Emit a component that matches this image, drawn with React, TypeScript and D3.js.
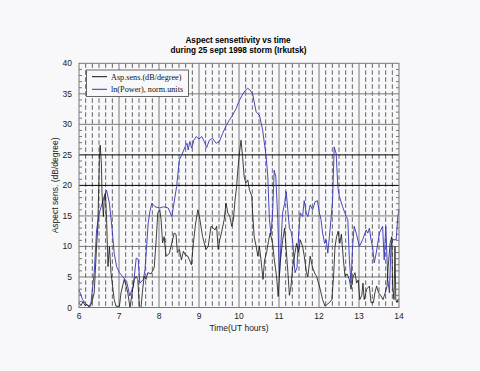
import * as d3 from "d3";
import React from "react";

// ln(Power), norm. units (blue)
const powerTimes = [
  6.0, 6.09, 6.18, 6.26, 6.3, 6.38, 6.44, 6.51, 6.58, 6.63, 6.69, 6.76, 6.83, 6.88, 6.94,
  7.01, 7.09, 7.15, 7.19, 7.27, 7.33, 7.36, 7.43, 7.48, 7.52, 7.61, 7.65, 7.69, 7.73, 7.77,
  7.82, 7.9, 8.02, 8.11, 8.23, 8.32, 8.36, 8.44, 8.51, 8.59, 8.65, 8.7, 8.73, 8.77, 8.82,
  8.87, 8.93, 9.0, 9.07, 9.13, 9.19, 9.26, 9.34, 9.43, 9.51, 9.59, 9.68, 9.76, 9.84, 9.93,
  10.0, 10.08, 10.15, 10.22, 10.28, 10.34, 10.43, 10.51, 10.59, 10.68, 10.72, 10.76, 10.8,
  10.84, 10.88, 10.92, 10.97, 11.01, 11.05, 11.09, 11.14, 11.18, 11.22, 11.26, 11.3, 11.34,
  11.4, 11.45, 11.49, 11.53, 11.59, 11.63, 11.68, 11.72, 11.78, 11.84, 11.9, 11.96, 12.01,
  12.05, 12.09, 12.14, 12.18, 12.22, 12.26, 12.3, 12.34, 12.38, 12.43, 12.47, 12.51, 12.59,
  12.68, 12.72, 12.76, 12.8, 12.84, 12.88, 12.93, 13.01, 13.09, 13.18, 13.22, 13.26, 13.3,
  13.34, 13.38, 13.43, 13.51, 13.59, 13.63, 13.67, 13.72, 13.76, 13.8, 13.84, 13.93, 13.97, 14.0,
];
const powerValues = [
  2.9, 1.3, 0.5, 0.2, 0.8, 5.7, 12.7, 15.5, 17.1, 18.2, 19.2, 17.1, 12.7, 8.9, 6.7,
  5.7, 5.1, 4.6, 4.3, 1.9, 3.0, 3.5, 8.1, 7.9, 4.0, 4.6, 6.2, 10.0, 13.8, 15.7,
  17.1, 16.5, 16.3, 16.5, 16.3, 14.9, 16.5, 19.8, 24.2, 25.3, 26.3, 26.9, 25.8, 27.2, 26.1,
  27.4, 28.0, 27.6, 28.0, 27.2, 26.2, 27.4, 27.7, 26.9, 27.2, 28.5, 29.8, 30.7, 31.5, 32.6,
  33.8, 34.8, 35.5, 35.9, 35.6, 35.0, 32.0, 31.5, 29.1, 24.7, 21.4, 14.4, 12.0,
  15.5, 22.5, 21.4, 14.4, 5.1, 10.6, 15.5, 17.0, 19.0, 16.0, 13.0, 12.5, 11.0,
  5.7, 6.5, 12.0, 15.5, 14.9, 17.5, 15.5, 14.9, 16.8, 16.0, 17.3, 17.5, 15.5,
  14.4, 12.2, 10.5, 11.1, 8.9, 11.6, 14.5, 17.6, 26.3, 25.2, 19.8, 18.2, 16.5,
  14.9, 14.4, 7.8, 4.0, 10.0, 13.3, 12.2, 10.0, 11.1, 12.7, 12.2, 13.0, 11.1,
  10.0, 7.3, 8.9, 12.2, 13.3, 7.8, 13.3, 4.6, 2.4, 10.0, 11.1, 11.1, 14.9, 16.0,
];

// Asp.sens. (dB/degree) (black)
const sensTimes = [
  6.0, 6.05, 6.1, 6.15, 6.2, 6.26, 6.32, 6.38, 6.44, 6.47, 6.49, 6.51, 6.53, 6.56, 6.575,
  6.61, 6.63, 6.66, 6.69, 6.725, 6.76, 6.8, 6.84, 6.88, 6.925, 7.01, 7.05, 7.09, 7.13, 7.18,
  7.22, 7.275, 7.34, 7.38, 7.43, 7.47, 7.51, 7.55, 7.59, 7.63, 7.675, 7.72, 7.8, 7.88, 7.93,
  7.97, 8.02, 8.05, 8.09, 8.13, 8.175, 8.22, 8.26, 8.3, 8.34, 8.38, 8.425, 8.46, 8.51, 8.56,
  8.61, 8.66, 8.72, 8.76, 8.81, 8.86, 8.91, 8.97, 9.01, 9.09, 9.175, 9.23, 9.3, 9.36, 9.4,
  9.44, 9.48, 9.52, 9.57, 9.63, 9.675, 9.72, 9.77, 9.82, 9.86, 9.9, 9.94, 9.97, 10.02, 10.05,
  10.09, 10.13, 10.17, 10.22, 10.26, 10.32, 10.34, 10.38, 10.43, 10.47, 10.51, 10.55, 10.6,
  10.64, 10.69, 10.74, 10.78, 10.84, 10.88, 10.94, 10.98, 11.03, 11.09, 11.14, 11.18, 11.22,
  11.26, 11.3, 11.34, 11.4, 11.44, 11.49, 11.53, 11.59, 11.63, 11.68, 11.72, 11.78, 11.84,
  11.9, 11.94, 12.01, 12.05, 12.09, 12.15, 12.2, 12.26, 12.32, 12.36, 12.4, 12.44, 12.48,
  12.52, 12.56, 12.61, 12.65, 12.7, 12.76, 12.8, 12.85, 12.9, 12.94, 12.98, 13.02, 13.07,
  13.1, 13.13, 13.19, 13.26, 13.3, 13.36, 13.4, 13.44, 13.49, 13.55, 13.6, 13.66, 13.7,
  13.73, 13.78, 13.82, 13.84, 13.875, 13.9, 13.92, 13.95, 13.97, 14.0,
];
const sensValues = [
  0.8, 0.3, 1.0, 0.3, 0.5, 0.0, 0.8, 2.4, 10.0, 13.3, 18.7, 24.2, 26.6, 23.6, 18.7,
  14.9, 17.6, 18.7, 14.4, 6.7, 10.0, 5.7, 3.5, 1.3, 0.2, 0.2, 2.4, 3.5, 4.6, 3.5,
  2.4, 0.0, 2.9, 4.6, 5.1, 4.6, 0.0, 0.0, 2.9, 5.1, 4.6, 5.7, 5.5, 6.5, 11.1,
  15.5, 16.0, 14.5, 10.6, 11.6, 8.4, 8.6, 8.9, 10.0, 11.1, 12.2, 12.0, 9.0, 9.5, 7.8,
  9.2, 8.6, 8.4, 7.8, 7.0, 10.6, 13.5, 16.0, 14.9, 11.6, 9.5, 10.0, 13.3, 13.0, 12.7,
  13.3, 9.5, 11.1, 12.5, 14.4, 17.1, 15.5, 14.9, 13.3, 14.4, 17.6, 19.8, 22.5, 25.8, 27.4,
  24.7, 21.4, 20.4, 20.9, 19.3, 18.2, 15.5, 11.6, 10.0, 8.4, 10.0, 7.8, 4.6,
  7.8, 9.0, 11.0, 12.2, 10.5, 8.0, 5.0, 1.8, 7.3, 11.0, 13.0, 9.5, 6.0,
  2.0, 3.5, 6.5, 9.0, 10.5, 9.0, 11.1, 10.0, 8.5, 6.0, 5.0, 8.4, 6.5,
  5.5, 5.1, 3.5, 2.4, 1.3, 0.2, 0.5, 0.8, 1.3, 4.6, 10.0, 11.6, 12.5,
  10.5, 12.0, 7.8, 5.1, 5.5, 4.6, 3.0, 5.0, 5.7, 4.0, 4.5, 1.3, 2.0,
  4.0, 1.3, 3.0, 3.5, 0.8, 0.8, 2.5, 3.5, 2.4, 1.9, 1.3, 2.5, 3.5,
  6.7, 10.6, 11.6, 3.5, 1.3, 10.0, 1.3, 0.8, 1.3, 1.3,
];

const yTicks = [0, 5, 10, 15, 20, 25, 30, 35, 40];
const xTicks = [6, 7, 8, 9, 10, 11, 12, 13, 14];
const legendLabels = ["Asp.sens.(dB/degree)", "ln(Power), norm.units"];

export default function App() {
  const width = 480;
  const height = 371;
  const left = 79;
  const right = 399;
  const top = 63.3;
  const bottom = 307.5;

  const x = d3.scaleLinear().domain([6, 14]).range([left, right]);
  const y = d3.scaleLinear().domain([0, 40]).range([bottom, top]);

  const line = d3.line<[number, number]>()
    .x(d => x(d[0]))
    .y(d => y(d[1]));

  const power = powerTimes.map((t, i) => [t, powerValues[i]] as [number, number]);
  const sens = sensTimes.map((t, i) => [t, sensValues[i]] as [number, number]);

  // 10-minute grid between the hours
  const minorX = d3.range(6, 14, 1 / 6).filter(t => Math.abs(t - Math.round(t)) > 0.01);
  const minorY = d3.range(1, 40).filter(v => v % 5 !== 0);

  const sans = "'Liberation Sans', Arial, sans-serif";
  const serif = "'Liberation Serif', 'Times New Roman', serif";

  return (
    <div style={{ position: "fixed", left: 0, top: 0, width, height, background: "#f8f8fa" }}>
      <svg width={width} height={height} viewBox={`0 0 ${width} ${height}`}>
        <rect x={0} y={0} width={width} height={height} fill="#f8f8fa" />

        {/* title */}
        <text x={238} y={43} textAnchor="middle" fontFamily={sans} fontWeight="bold" fontSize={8.2}>
          Aspect sensettivity vs time
        </text>
        <text x={238.5} y={52.5} textAnchor="middle" fontFamily={sans} fontWeight="bold" fontSize={8.2}>
          during 25 sept 1998 storm (Irkutsk)
        </text>

        {/* dashed 10-minute grid */}
        <g stroke="#3a3a3a" strokeWidth={0.8} strokeDasharray="4.5,2.5">
          {minorX.map((t, i) => (
            <line key={i} x1={x(t)} x2={x(t)} y1={top} y2={bottom} />
          ))}
        </g>
        {/* hour lines */}
        <g stroke="#7a7a7a" strokeWidth={1}>
          {xTicks.slice(1, -1).map(t => (
            <line key={t} x1={x(t)} x2={x(t)} y1={top} y2={bottom} />
          ))}
        </g>
        {/* horizontal grid */}
        <g>
          {yTicks.slice(1, -1).map(v => (
            <line key={v} x1={left} x2={right} y1={y(v)} y2={y(v)}
              stroke={v === 20 || v === 25 ? "#000" : "#7a7a7a"} strokeWidth={1} />
          ))}
        </g>

        {/* minor ticks */}
        <g stroke="#555" strokeWidth={0.8}>
          {minorY.map(v => (
            <g key={v}>
              <line x1={left} x2={left + 3} y1={y(v)} y2={y(v)} />
              <line x1={right - 3} x2={right} y1={y(v)} y2={y(v)} />
            </g>
          ))}
        </g>

        {/* series */}
        <path d={line(power) ?? ""} fill="none" stroke="#3535b5" strokeWidth={0.9} />
        <path d={line(sens) ?? ""} fill="none" stroke="#111" strokeWidth={0.8} />

        {/* frame */}
        <rect x={left} y={top} width={right - left} height={bottom - top} fill="none" stroke="#777" strokeWidth={1} />

        {/* tick labels */}
        <g fontFamily={sans} fontSize={8.5} fill="#222">
          {yTicks.map(v => (
            <text key={v} x={72} y={y(v) + 3} textAnchor="end">{v}</text>
          ))}
          {xTicks.map(t => (
            <text key={t} x={x(t)} y={319} textAnchor="middle">{t}</text>
          ))}
        </g>

        {/* axis titles */}
        <text x={239} y={331} textAnchor="middle" fontFamily={sans} fontSize={8.5} fill="#222">
          Time(UT hours)
        </text>
        <text transform={`translate(58,${(top + bottom) / 2}) rotate(-90)`} textAnchor="middle"
          fontFamily={sans} fontSize={8.5} fill="#222">
          Aspect sens. (dB/degree)
        </text>

        {/* legend */}
        <rect x={86.5} y={70} width={102} height={26.5} fill="#f8f8fa" stroke="#444" strokeWidth={0.8} />
        <line x1={92} x2={107} y1={76.7} y2={76.7} stroke="#111" strokeWidth={1} />
        <line x1={92} x2={107} y1={89.3} y2={89.3} stroke="#3535b5" strokeWidth={1} />
        <text x={111} y={79.5} fontFamily={serif} fontSize={8.2} fill="#111">{legendLabels[0]}</text>
        <text x={111} y={92} fontFamily={serif} fontSize={8.2} fill="#111">{legendLabels[1]}</text>
      </svg>
    </div>
  );
}
